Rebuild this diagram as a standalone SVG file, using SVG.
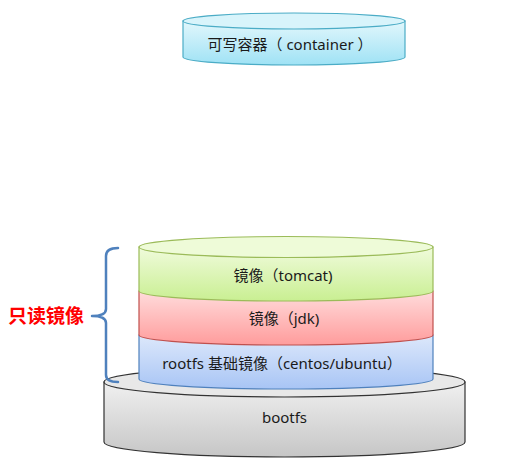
<svg xmlns="http://www.w3.org/2000/svg" width="509" height="472" viewBox="0 0 509 472">
<defs>
<linearGradient id="gCyan" x1="0" y1="0" x2="0" y2="1"><stop offset="0" stop-color="#e2f7fc"/><stop offset="1" stop-color="#9fe2f5"/></linearGradient>
<linearGradient id="gGreen" x1="0" y1="0" x2="0" y2="1"><stop offset="0" stop-color="#f0fbdc"/><stop offset="1" stop-color="#c9ef92"/></linearGradient>
<linearGradient id="gRed" x1="0" y1="0" x2="0" y2="1"><stop offset="0" stop-color="#ffdcdc"/><stop offset="1" stop-color="#ff9c9c"/></linearGradient>
<linearGradient id="gBlue" x1="0" y1="0" x2="0" y2="1"><stop offset="0" stop-color="#dde8fb"/><stop offset="1" stop-color="#a8c5f5"/></linearGradient>
<linearGradient id="gGray" x1="0" y1="0" x2="0" y2="1"><stop offset="0" stop-color="#f0f0f0"/><stop offset="1" stop-color="#c6c6c6"/></linearGradient>
</defs>
<style>
text{font-family:"Noto Sans","Noto Sans CJK SC",sans-serif;font-size:15px;fill:#1a1a1a;text-anchor:middle;dominant-baseline:central}
.lbl{font-size:19px;font-weight:bold;fill:#ff0000;text-anchor:start}
.brace{fill:none;stroke:#4f81bd;stroke-width:2.5;stroke-linecap:round;stroke-linejoin:round}
</style>
<g id="bootfs">
<path d="M104,382 L104,442 A180.5,15 0 0 0 465,442 L465,382 Z" fill="url(#gGray)" stroke="#333" stroke-width="1.2"/>
<ellipse cx="284.5" cy="382" rx="180.5" ry="15" fill="#e8e8e8" stroke="#333" stroke-width="1.2"/>
<text x="284.5" y="417">bootfs</text>
</g>
<g id="rootfs">
<path d="M139,335 L139,379 A147,10 0 0 0 433,379 L433,335 Z" fill="url(#gBlue)" stroke="#4f81bd" stroke-width="1.2"/>
<text x="282" y="363">rootfs 基础镜像（centos/ubuntu）</text>
</g>
<g id="jdk">
<path d="M139,291 L139,335 A147,10 0 0 0 433,335 L433,291 Z" fill="url(#gRed)" stroke="#c0504d" stroke-width="1.2"/>
<text x="284" y="318">镜像（jdk)</text>
</g>
<g id="tomcat">
<path d="M139,247 L139,291 A147,10 0 0 0 433,291 L433,247 Z" fill="url(#gGreen)" stroke="#9bbb59" stroke-width="1.2"/>
<ellipse cx="286" cy="247" rx="147" ry="10.5" fill="#eefbd8" stroke="#9bbb59" stroke-width="1.2"/>
<text x="283" y="275">镜像（tomcat)</text>
</g>
<g id="container">
<path d="M183,21 L183,57 A111,8 0 0 0 405,57 L405,21 Z" fill="url(#gCyan)" stroke="#4bacc6" stroke-width="1.2"/>
<ellipse cx="294" cy="21" rx="111" ry="8" fill="#d8f4fb" stroke="#4bacc6" stroke-width="1.2"/>
<text x="290" y="44">可写容器（ container ）</text>
</g>
<g id="readonly">
<path class="brace" d="M118,248 Q106,248 106,256 L106,309 Q106,316 92,316 Q106,316 106,323 L106,375 Q106,382 118,382"/>
<text class="lbl" x="8" y="316">只读镜像</text>
</g>
</svg>
